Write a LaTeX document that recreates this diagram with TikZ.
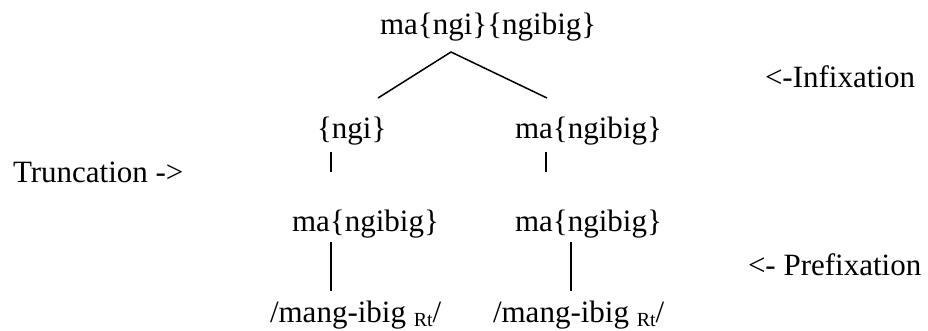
\documentclass[tikz,border=0pt]{standalone}
\usepackage{fontspec}
\setmainfont{Liberation Serif}
\begin{document}
\begin{tikzpicture}[x=1pt,y=-1pt,
  lbl/.style={inner sep=0pt,outer sep=0pt,anchor=base west,
    font=\fontsize{31}{37}\selectfont},
  branch/.style={line width=1.5pt}]
\useasboundingbox (0,0) rectangle (928,330);
\newcommand{\rt}{\raisebox{-4pt}{\fontsize{20}{24}\selectfont Rt}}
% words of the derivation tree
\node[lbl] (root) at (380,34) {ma\{ngi\}\{ngibig\}};
\node[lbl] (ngi) at (317,138) {\{ngi\}};
\node[lbl] (mar) at (515,138) {ma\{ngibig\}};
\node[lbl] (mal) at (292,231) {ma\{ngibig\}};
\node[lbl] (mar2) at (515,231) {ma\{ngibig\}};
\node[lbl] (sl) at (270,322) {/mang-ibig \rt/};
\node[lbl] (sr) at (493,322) {/mang-ibig \rt/};
% process labels
\node[lbl] (infix) at (765,87) {<-Infixation};
\node[lbl] (trunc) at (13,182) {Truncation ->};
\node[lbl] (prefix) at (748,275) {<- Prefixation};
% branch end points
\coordinate (apex) at (451,52);
\coordinate (bl) at (378,98);
\coordinate (br) at (547,98);
\coordinate (ta) at (331,152);
\coordinate (tb) at (331,172);
\coordinate (tc) at (546,152);
\coordinate (td) at (546,172);
\coordinate (pa) at (331,242);
\coordinate (pb) at (331,291);
\coordinate (pc) at (571,242);
\coordinate (pd) at (571,291);
% branches
\draw[branch] (bl) -- (apex) -- (br);
\draw[branch] (ta) -- (tb);
\draw[branch] (tc) -- (td);
\draw[branch] (pa) -- (pb);
\draw[branch] (pc) -- (pd);
\end{tikzpicture}
\end{document}
